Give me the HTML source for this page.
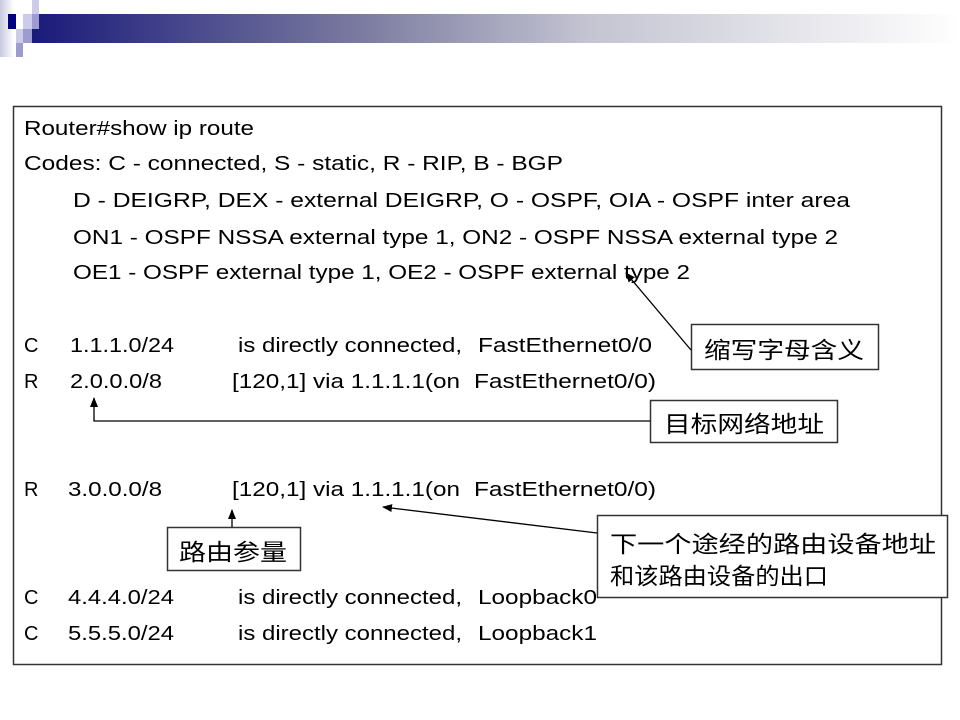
<!DOCTYPE html>
<html><head><meta charset="utf-8"><style>
html,body{margin:0;padding:0;background:#fff;}
svg{display:block}
text{font-family:"Liberation Sans","Noto Sans CJK SC",sans-serif;font-size:20px;fill:#000}
.c{font-size:23px}
</style></head><body>
<svg width="960" height="720" viewBox="0 0 960 720" xmlns="http://www.w3.org/2000/svg">
<defs>
<linearGradient id="g" x1="0" x2="1" y1="0" y2="0">
<stop offset="0" stop-color="#1a1a7a"/>
<stop offset="0.35" stop-color="#7a7aa0"/>
<stop offset="0.6" stop-color="#c4c4d2"/>
<stop offset="1" stop-color="#ffffff"/>
</linearGradient>
<linearGradient id="lg" x1="0" x2="1" y1="0" y2="0">
<stop offset="0" stop-color="#c8c8e0"/><stop offset="1" stop-color="#fff"/>
</linearGradient>
<marker id="a" markerWidth="10" markerHeight="10" refX="9" refY="5" orient="auto" markerUnits="userSpaceOnUse">
<path d="M0,1 L10,5 L0,9 z" fill="#000"/>
</marker>
</defs>
<rect x="32" y="14" width="928" height="29" fill="url(#g)"/>
<rect x="0" y="0" width="14" height="57" fill="url(#lg)"/>
<rect x="8" y="14" width="8" height="15" fill="#000080"/>
<rect x="23" y="14" width="9" height="15" fill="#ccccea"/>
<rect x="32" y="0" width="7" height="14" fill="#ccccea"/>
<rect x="32" y="14" width="7" height="15" fill="#9c9cd0"/>
<rect x="16" y="29" width="7" height="14" fill="#ccccea"/>
<rect x="23" y="29" width="9" height="14" fill="#9c9cd0"/>
<rect x="16" y="43" width="7" height="14" fill="#9c9cd0"/>

<rect x="13.5" y="106.5" width="928" height="558" fill="none" stroke="#333" stroke-width="1.5"/>

<text x="24" y="135" textLength="230" lengthAdjust="spacingAndGlyphs">Router#show ip route</text>
<text x="24" y="170" textLength="539" lengthAdjust="spacingAndGlyphs">Codes: C - connected, S - static, R - RIP, B - BGP</text>
<text x="73" y="207" textLength="777" lengthAdjust="spacingAndGlyphs">D - DEIGRP, DEX - external DEIGRP, O - OSPF, OIA - OSPF inter area</text>
<text x="73" y="244" textLength="765" lengthAdjust="spacingAndGlyphs">ON1 - OSPF NSSA external type 1, ON2 - OSPF NSSA external type 2</text>
<text x="73" y="279" textLength="617" lengthAdjust="spacingAndGlyphs">OE1 - OSPF external type 1, OE2 - OSPF external type 2</text>

<text x="24" y="352">C</text>
<text x="70" y="352" textLength="104" lengthAdjust="spacingAndGlyphs">1.1.1.0/24</text>
<text x="238" y="352" textLength="224" lengthAdjust="spacingAndGlyphs">is directly connected,</text>
<text x="478" y="352" textLength="174" lengthAdjust="spacingAndGlyphs">FastEthernet0/0</text>

<text x="24" y="388">R</text>
<text x="70" y="388" textLength="92" lengthAdjust="spacingAndGlyphs">2.0.0.0/8</text>
<text x="232" y="388" textLength="228" lengthAdjust="spacingAndGlyphs">[120,1] via 1.1.1.1(on</text>
<text x="474" y="388" textLength="182" lengthAdjust="spacingAndGlyphs">FastEthernet0/0)</text>

<text x="24" y="496">R</text>
<text x="68" y="496" textLength="94" lengthAdjust="spacingAndGlyphs">3.0.0.0/8</text>
<text x="232" y="496" textLength="228" lengthAdjust="spacingAndGlyphs">[120,1] via 1.1.1.1(on</text>
<text x="474" y="496" textLength="182" lengthAdjust="spacingAndGlyphs">FastEthernet0/0)</text>

<text x="24" y="604">C</text>
<text x="68" y="604" textLength="106" lengthAdjust="spacingAndGlyphs">4.4.4.0/24</text>
<text x="238" y="604" textLength="224" lengthAdjust="spacingAndGlyphs">is directly connected,</text>
<text x="478" y="604" textLength="119" lengthAdjust="spacingAndGlyphs">Loopback0</text>

<text x="24" y="640">C</text>
<text x="68" y="640" textLength="106" lengthAdjust="spacingAndGlyphs">5.5.5.0/24</text>
<text x="238" y="640" textLength="224" lengthAdjust="spacingAndGlyphs">is directly connected,</text>
<text x="478" y="640" textLength="119" lengthAdjust="spacingAndGlyphs">Loopback1</text>

<g fill="#fff" stroke="#333" stroke-width="1.5">
<rect x="691.5" y="324.5" width="187" height="45"/>
<rect x="650.5" y="400.5" width="187" height="42"/>
<rect x="167.5" y="527.5" width="133" height="43"/>
<rect x="597.5" y="515.5" width="350" height="82"/>
</g>
<text class="c" x="704" y="358" textLength="160" lengthAdjust="spacingAndGlyphs">缩写字母含义</text>
<text class="c" x="664" y="432" textLength="160" lengthAdjust="spacingAndGlyphs">目标网络地址</text>
<text class="c" x="179" y="560" textLength="108" lengthAdjust="spacingAndGlyphs">路由参量</text>
<text class="c" x="610" y="552" textLength="326" lengthAdjust="spacingAndGlyphs">下一个途经的路由设备地址</text>
<text class="c" x="610" y="584" textLength="218" lengthAdjust="spacingAndGlyphs">和该路由设备的出口</text>

<g stroke="#000" stroke-width="1.3" fill="none">
<line x1="691" y1="350" x2="626" y2="273" marker-end="url(#a)"/>
<polyline points="650,421 94,421 94,398" marker-end="url(#a)"/>
<line x1="232" y1="527" x2="232" y2="510" marker-end="url(#a)"/>
<line x1="597" y1="533" x2="383" y2="507" marker-end="url(#a)"/>
</g>
</svg>
</body></html>
